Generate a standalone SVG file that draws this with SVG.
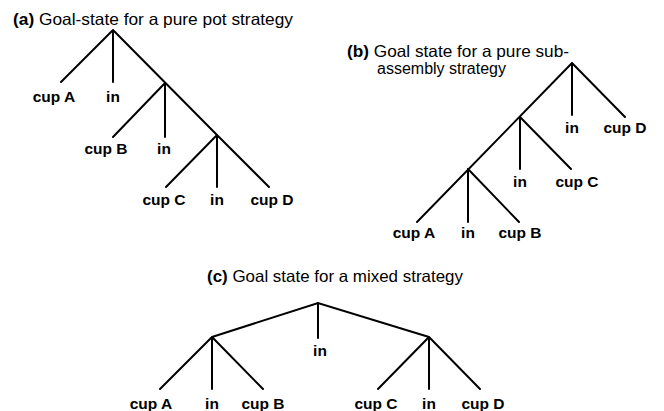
<svg xmlns="http://www.w3.org/2000/svg" width="664" height="411" viewBox="0 0 664 411">
<style>
.t{font-family:"Liberation Sans",Arial,sans-serif;font-size:16.5px;fill:#000}
.b{font-weight:bold}
.l{font-family:"Liberation Sans",Arial,sans-serif;font-size:15.5px;font-weight:bold;fill:#000;text-anchor:middle}
.e{stroke:#000;stroke-width:2;fill:none;stroke-linecap:round}
</style>
<rect width="664" height="411" fill="#fff"/>
<g id="titles">
<text class="t" x="13" y="25" textLength="280" lengthAdjust="spacingAndGlyphs"><tspan class="b">(a)</tspan> Goal-state for a pure pot strategy</text>
<text class="t" x="347" y="57" textLength="222" lengthAdjust="spacingAndGlyphs"><tspan class="b">(b)</tspan> Goal state for a pure sub-</text>
<text class="t" x="377" y="74" style="font-size:16px">assembly strategy</text>
<text class="t" x="207" y="282" textLength="256" lengthAdjust="spacingAndGlyphs"><tspan class="b">(c)</tspan> Goal state for a mixed strategy</text>
</g>
<g id="connectors">
<path class="e" d="M113 30L61 82M113 30V82M113 30L217 135M165 83L113 137M165 83V137M217 135L166 187M217 135V187M217 135L269 187"/>
<path class="e" d="M572 63L417 222M572 63V115M572 63L625 117M520 117V169M520 117L571 169M468 169V222M468 169L519 222"/>
<path class="e" d="M212 337L318 303L429 337M318 303V338M212 337L160 389M212 337V389M212 337L263 389M429 337L378 389M429 337V389M429 337L480 389"/>
</g>
<g id="tree-a">
<text class="l" x="54" y="102">cup A</text>
<text class="l" x="113" y="102">in</text>
<text class="l" x="106" y="154">cup B</text>
<text class="l" x="164" y="154">in</text>
<text class="l" x="164" y="205">cup C</text>
<text class="l" x="217" y="205">in</text>
<text class="l" x="272" y="205">cup D</text>
</g>
<g id="tree-b">
<text class="l" x="572" y="133">in</text>
<text class="l" x="625" y="133">cup D</text>
<text class="l" x="520" y="187">in</text>
<text class="l" x="577" y="187">cup C</text>
<text class="l" x="414" y="238">cup A</text>
<text class="l" x="468" y="238">in</text>
<text class="l" x="520" y="238">cup B</text>
</g>
<g id="tree-c">
<text class="l" x="320" y="356">in</text>
<text class="l" x="151" y="409">cup A</text>
<text class="l" x="212" y="409">in</text>
<text class="l" x="263" y="409">cup B</text>
<text class="l" x="376" y="409">cup C</text>
<text class="l" x="429" y="409">in</text>
<text class="l" x="483" y="409">cup D</text>
</g>
</svg>
